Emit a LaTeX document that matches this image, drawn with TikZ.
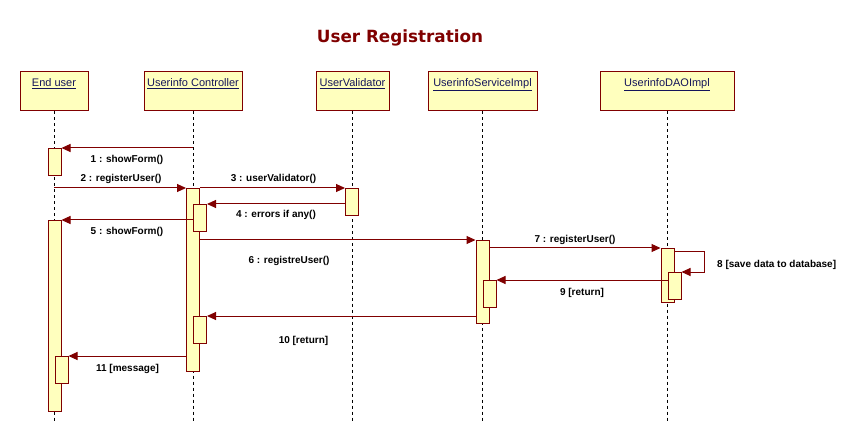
\documentclass[tikz,border=0pt]{standalone}
\usepackage{fontspec}
\setmainfont{Liberation Sans}
\newfontfamily\titlefont{DejaVu Sans}
\usetikzlibrary{arrows.meta,calc}
\definecolor{dred}{RGB}{128,0,0}
\definecolor{pyel}{RGB}{255,255,190}
\definecolor{hdrblue}{RGB}{20,20,90}
\newcommand\actbox[4]{\node[act, minimum height={#4-#3}, anchor=north] (#1) at (#2,#3) {};}
\begin{document}
\begin{tikzpicture}[x=1pt,y=-1pt,
  hdr/.style={draw=dred, fill=pyel, line width=1pt, inner sep=0pt, minimum height=39pt},
  hdrtext/.style={font=\fontsize{11}{13}\selectfont, text=hdrblue, anchor=base, inner sep=0pt},
  life/.style={draw=black, line width=0.9pt, dash pattern=on 3pt off 3pt},
  act/.style={draw=dred, fill=pyel, line width=1pt, inner sep=0pt, minimum width=13pt},
  msg/.style={draw=dred, line width=1pt, -{Triangle[length=9pt,width=8pt]}},
  lbl/.style={font=\fontsize{10}{12}\selectfont\bfseries, anchor=base, inner sep=0pt},
  ttl/.style={font=\titlefont\fontsize{16.8}{20}\selectfont\bfseries, text=dred, anchor=base, inner sep=0pt}]
\fill[white] (0,0) rectangle (864,446);
\useasboundingbox (0,0) rectangle (864,446);

% title
\node[ttl] (title) at (400,42.5) {User Registration};

% header boxes
\node[hdr, minimum width=68pt]  (eu)   at (54,91.5) {};
\node[hdr, minimum width=98pt]  (ctrl) at (193,91.5) {};
\node[hdr, minimum width=73pt]  (val)  at (352.5,91.5) {};
\node[hdr, minimum width=109pt] (svc)  at (482.5,91.5) {};
\node[hdr, minimum width=134pt] (dao)  at (667,91.5) {};

\node[hdrtext] (eut)   at (54,87)    {\underline{End user}};
\node[hdrtext] (ctrlt) at (193,87)   {\underline{Userinfo Controller}};
\node[hdrtext] (valt)  at (352.5,87) {\underline{UserValidator}};
\node[hdrtext] (svct)  at (482.5,87) {\underline{UserinfoServiceImpl}};
\node[hdrtext] (daot)  at (667,87)   {\underline{UserinfoDAOImpl}};

% lifelines
\coordinate (eue)   at (54,421);
\coordinate (ctrle) at (193,421);
\coordinate (vale)  at (352.5,421);
\coordinate (svce)  at (482.5,421);
\coordinate (daoe)  at (667,421);
\draw[life] (eu.south) -- (eue);
\draw[life] (ctrl.south) -- (ctrle);
\draw[life] (val.south) -- (vale);
\draw[life] (svc.south) -- (svce);
\draw[life] (dao.south) -- (daoe);

% activation boxes
\actbox{eu1}{54.5}{148}{175}
\actbox{eu2}{54.5}{220}{411}
\actbox{eu3}{61.5}{356}{383}
\actbox{cm}{193}{188}{371}
\actbox{cn1}{200}{204}{231}
\actbox{cn2}{200}{316}{343}
\actbox{va}{352}{188}{215}
\actbox{sm}{482.5}{240}{323}
\actbox{sn}{489.5}{280}{307}
\actbox{dm}{667.5}{248}{302}
\actbox{dn}{674.5}{272}{299}

% messages
\draw[msg] (ctrl.south |- eu1.north east) -- (eu1.north east);
\draw[msg] (eu.south |- cm.north west) -- (cm.north west);
\draw[msg] (cm.north east) -- (va.north west);
\draw[msg] (va.west |- cn1.north east) -- (cn1.north east);
\draw[msg] (cn1.west |- eu2.north east) -- (eu2.north east);
\draw[msg] (cm.east |- sm.north west) -- (sm.north west);
\draw[msg] (sm.east |- dm.north west) -- (dm.north west);
\draw[msg] ([yshift=-4pt]dm.north east) -- ++(30,0) |- (dn.north east);
\draw[msg] (dn.west |- sn.north east) -- (sn.north east);
\draw[msg] (sm.west |- cn2.north east) -- (cn2.north east);
\draw[msg] (cm.west |- eu3.north east) -- (eu3.north east);

% labels
\node[lbl] (l1)  at (127,163)   {1 : showForm()};
\node[lbl] (l2)  at (121,182)   {2 : registerUser()};
\node[lbl] (l3)  at (273.5,182) {3 : userValidator()};
\node[lbl] (l4)  at (276,218)   {4 : errors if any()};
\node[lbl] (l5)  at (127,235)   {5 : showForm()};
\node[lbl] (l6)  at (289,263)   {6 : registreUser()};
\node[lbl] (l7)  at (575,243)   {7 : registerUser()};
\node[lbl, anchor=base west] (l8) at (717,267) {8 [save data to database]};
\node[lbl] (l9)  at (582,295)   {9 [return]};
\node[lbl] (l10) at (303.5,343) {10 [return]};
\node[lbl] (l11) at (127.5,371) {11 [message]};
\end{tikzpicture}
\end{document}
